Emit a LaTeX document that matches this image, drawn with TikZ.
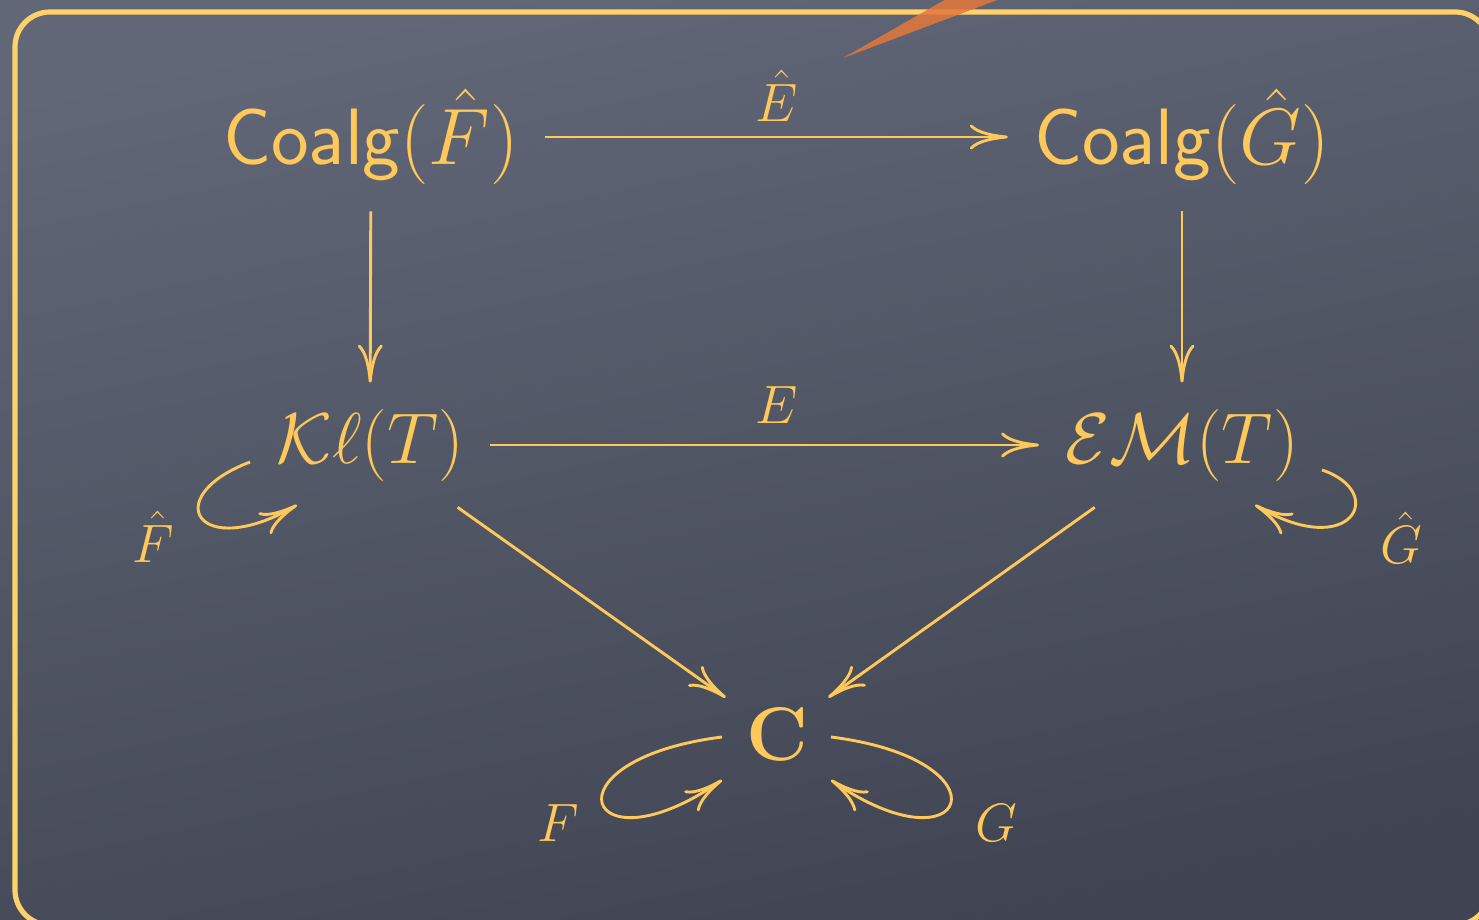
\RequirePackage{fix-cm}
\documentclass[tikz,border=0pt]{standalone}
\usetikzlibrary{arrows.meta}
\definecolor{ink}{RGB}{255,200,90}
\definecolor{framec}{RGB}{255,210,105}
\definecolor{bgtop}{RGB}{97,103,119}
\definecolor{bgbot}{RGB}{64,68,82}
\definecolor{wedgec}{RGB}{230,120,60}
\begin{document}
\begin{tikzpicture}[x=0.5pt,y=-0.5pt,
  obj/.style={text=ink, inner sep=13pt, font=\fontsize{40}{44}\selectfont},
  mobj/.style={obj, font=\fontsize{36}{40}\selectfont},
  lbl/.style={text=ink, inner sep=0pt, font=\fontsize{27}{30}\selectfont},
  arr/.style={draw=ink, line width=1.45pt, -{To[length=19pt,width=12.5pt]}},
]
\useasboundingbox (0,0) rectangle (1479,920);
\shade[top color=bgtop,bottom color=bgbot,shading angle=12] (0,0) rectangle (1479,920);
\draw[framec, line width=2.6pt, rounded corners=17.5pt] (15,12) rectangle (1490,925);
\fill[wedgec, opacity=0.85] (843,58) -- (962,-10) -- (1024,-10) -- cycle;

\node[obj] (cf) at (371,137) {\textsf{Coalg}$(\hat F)$};
\node[obj] (cg) at (1182,137) {\textsf{Coalg}$(\hat G)$};
\node[mobj] (kl) at (370,445) {$\mathcal{K}\ell(T)$};
\node[mobj] (em) at (1182,445) {$\mathcal{E}\mathcal{M}(T)$};
\node[obj, inner sep=10pt, font=\fontsize{38}{42}\selectfont] (c) at (777,734) {$\mathbf{C}$};

\draw[arr] (cf) -- (cg);
\node[lbl] (ehat) at (777,96) {$\hat E$};
\draw[arr] (kl) -- (em);
\node[lbl] (elab) at (777,405) {$E$};
\draw[arr] (cf) -- (kl);
\draw[arr] (cg) -- (em);
\draw[arr] (kl) -- (c);
\draw[arr] (em) -- (c);

\coordinate (klA) at (250,462);
\coordinate (klB) at (297,505);
\coordinate (emA) at (1322,470);
\coordinate (emB) at (1255,505);
\coordinate (cLA) at (722,737);
\coordinate (cLB) at (722,780);
\coordinate (cRA) at (831,737);
\coordinate (cRB) at (831,780);
\draw[arr] (klA) .. controls (158,497) and (198,562) .. (klB);
\draw[arr] (emA) .. controls (1388,492) and (1352,562) .. (emB);
\draw[arr] (cLA) .. controls (540,760) and (585,875) .. (cLB);
\draw[arr] (cRA) .. controls (1013,760) and (968,875) .. (cRB);

\node[lbl] (fhat) at (153,537) {$\hat F$};
\node[lbl] (ghat) at (1401,538) {$\hat G$};
\node[lbl] (f) at (558,823) {$F$};
\node[lbl] (g) at (996,823) {$G$};
\end{tikzpicture}
\end{document}
